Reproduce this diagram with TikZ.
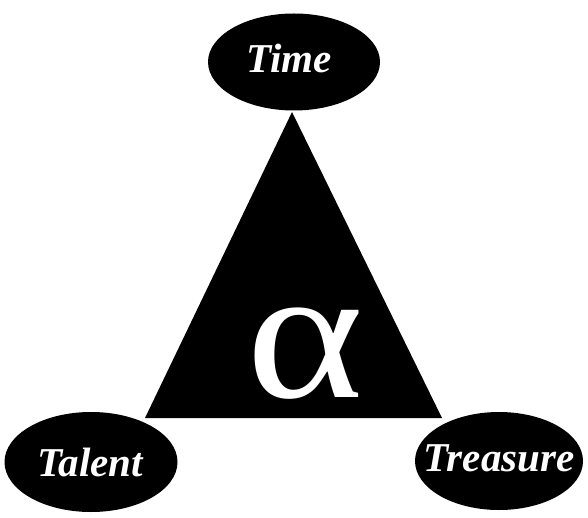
\documentclass[tikz,border=0pt]{standalone}
\usepackage{fontspec}
\setmainfont{Liberation Serif}
\usepackage{graphicx}
\usepackage{tikz}
\usetikzlibrary{shapes.geometric, positioning}
\definecolor{tripleblack}{HTML}{000000}
\tikzset{
    bubble/.style={ellipse, fill=tripleblack, text=white, inner sep=0pt,
        font=\fontsize{41}{41}\selectfont\bfseries\itshape},
}

\begin{document}
\begin{tikzpicture}[x=1pt, y=-1pt]
    \useasboundingbox (0, 0) rectangle (588, 518);

    % Triangle
    \coordinate (apex) at (292, 112);
    \coordinate (left) at (145, 418);
    \coordinate (right) at (442, 418);
    \fill[tripleblack] (apex) -- (left) -- (right) -- cycle;

    % Ellipses
    \node[bubble, minimum width=172pt, minimum height=97pt] (time) at (294, 62) {};
    \node[bubble, minimum width=173pt, minimum height=100pt] (talent) at (91, 462) {};
    \node[bubble, minimum width=168pt, minimum height=98pt] (treasure) at (499, 461) {};

    \node[bubble, fill=none] (timetext) at (289, 58) {Time};
    \node[bubble, fill=none] (talenttext) at (90, 462) {Talent};
    \node[bubble, fill=none] (treasuretext) at (499, 458) {Treasure};

    % Alpha
    \node[text=white, font=\fontsize{190}{190}\selectfont, inner sep=0pt] (alpha) at (305, 354) {\scalebox{1.18}[1]{α}};
\end{tikzpicture}
\end{document}
